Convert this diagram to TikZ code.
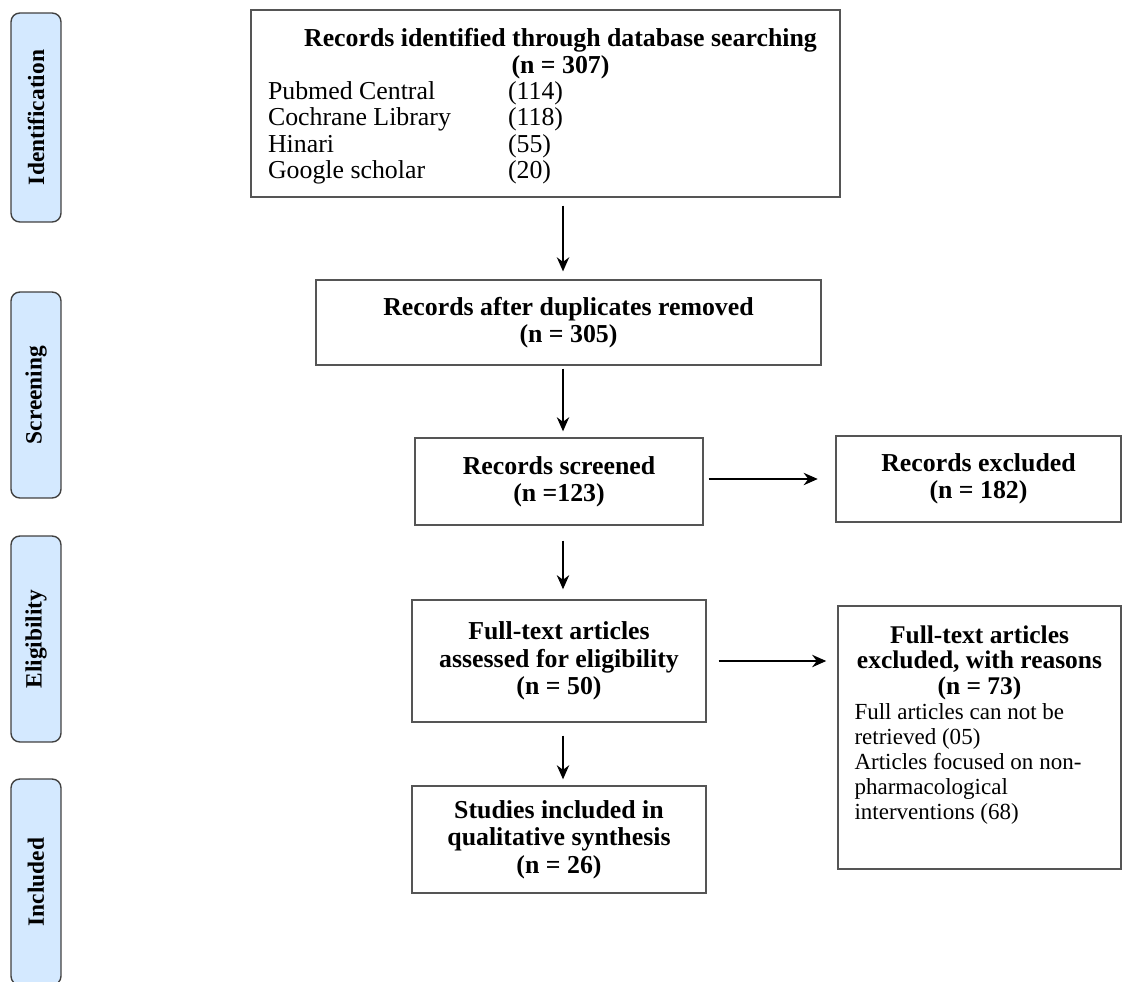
\documentclass[tikz,border=0pt]{standalone}
\usepackage{fontspec}
\setmainfont{Liberation Serif}
\usetikzlibrary{arrows.meta}

\definecolor{phasefill}{RGB}{212,233,255}
\definecolor{boxline}{RGB}{85,85,85}

\begin{document}
\begin{tikzpicture}[>={Stealth[length=8pt,width=7pt]}, x=0.02cm, y=-0.02cm]
  \tikzset{box/.style={draw=boxline, line width=0.8pt, align=center, inner sep=2pt, font=\fontsize{14.7}{15.6}\selectfont\bfseries},
           phase/.style={draw=black!75, fill=phasefill, rounded corners=5pt, line width=0.8pt, rotate=90, minimum width=4.12cm, minimum height=1.0cm, font=\fontsize{13.3}{14}\selectfont\bfseries},
           arr/.style={->, line width=1.2pt}}
  \useasboundingbox (0,0) rectangle (1123,981);
  % phases on the left
  \node[phase, minimum width=4.18cm] (ident) at (36,117.5) {Identification};
  \node[phase] (screen) at (36,395) {Screening};
  \node[phase] (elig) at (36,639) {Eligibility};
  \node[phase] (incl) at (36,882) {Included};
  % main column
  \node[box, minimum width=11.78cm, minimum height=3.74cm, font=\fontsize{14.7}{15}\selectfont\bfseries] (search) at (545.5,103.5)
    {\rule{0pt}{15pt}\hspace*{0.6cm}Records identified through database searching\\
     \hspace*{0.6cm}(n = 307)\\
     \mdseries\begin{tabular}[t]{@{}p{4.8cm}@{}p{6.3cm}@{}}
       Pubmed Central & (114)\\
       Cochrane Library & (118)\\
       Hinari & (55)\\
       Google scholar & (20)
     \end{tabular}};
  \node[box, minimum width=10.1cm, minimum height=1.7cm] (dedup) at (568.5,322.5) {Records after duplicates removed\\(n = 305)};
  \node[box, minimum width=5.76cm, minimum height=1.74cm] (screened) at (559,481.5) {Records screened\\(n =123)};
  \node[box, minimum width=5.88cm, minimum height=2.44cm] (fulltext) at (559,661) {Full-text articles\\assessed for eligibility\\(n = 50)};
  \node[box, minimum width=5.88cm, minimum height=2.14cm] (included) at (559,839.5) {Studies included in\\qualitative synthesis\\(n = 26)};
  % exclusions on the right
  \node[box, minimum width=5.66cm, minimum height=5.26cm, font=\fontsize{14.5}{14.5}\selectfont\bfseries] (ftexcl) at (979.5,737.5)
    {Full-text articles\\excluded, with reasons\\(n = 73)\\
     {\mdseries\fontsize{13.1}{14.2}\selectfont\begin{tabular}[t]{@{}p{5.0cm}@{}}
       Full articles can not be\\
       retrieved (05)\\
       Articles focused on non-\\
       pharmacological\\
       interventions (68)\\[13pt]
     \end{tabular}}};
  \node[box, minimum width=5.7cm, minimum height=1.72cm] (excl) at (978.5,479) {Records excluded\\(n = 182)};
  % arrows
  \coordinate (spine) at (563,0);
  \draw[arr, shorten <=4.5pt, shorten >=4.5pt] (search.south -| spine) -- (dedup.north -| spine);
  \draw[arr, shorten <=1.7pt, shorten >=3.4pt] (dedup.south -| spine) -- (screened.north -| spine);
  \draw[arr, shorten <=8.5pt, shorten >=5.7pt] (screened.south -| spine) -- (fulltext.north -| spine);
  \draw[arr, shorten <=7.4pt, shorten >=3.4pt] (fulltext.south -| spine) -- (included.north -| spine);
  \draw[arr, shorten <=2.8pt, shorten >=10pt] (screened.east |- excl) -- (excl.west);
  \draw[arr, shorten <=6.8pt, shorten >=6.3pt] (fulltext.east) -- (fulltext.east -| ftexcl.west);
\end{tikzpicture}
\end{document}
